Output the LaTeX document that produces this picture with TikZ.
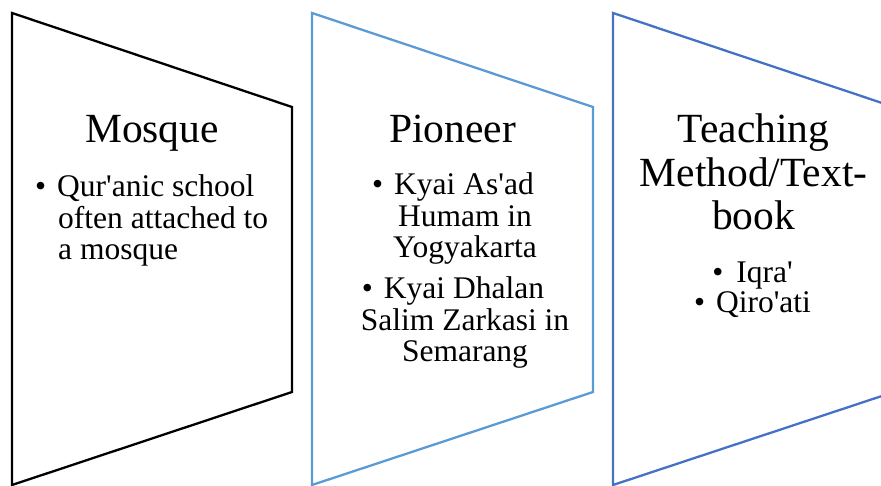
\documentclass[tikz,border=0pt]{standalone}
\usepackage{fontspec}
\setmainfont{Liberation Serif}[Ligatures=TeXOff]
\definecolor{blueA}{HTML}{5B9BD5}
\definecolor{blueB}{HTML}{4472C4}
\tikzset{
  panel/.style={line width=2.3pt, line join=miter},
  ttl/.style={inner sep=0pt, anchor=base, align=center, font={\fontsize{41.5}{43.5}\selectfont}},
  blt/.style={inner sep=0pt, anchor=base, font={\fontsize{31.5}{31.5}\selectfont}},
}
\newcommand{\bul}[1]{\textbullet\hspace{#1}}
\begin{document}
\begin{tikzpicture}[x=1pt,y=-1pt]
\useasboundingbox (0,0) rectangle (881,486);
\clip (0,0) rectangle (881,486);
% panels
\draw[panel, black] (12,13) -- (292,107) -- (292,392) -- (12,485) -- cycle;
\draw[panel, blueA] (312,13) -- (593,107) -- (593,392) -- (312,485) -- cycle;
\draw[panel, blueB] (613,13) -- (894,107) -- (894,392) -- (613,485) -- cycle;
% panel 1 (multi-line nodes: base anchor is on the last line)
\node[ttl] (t1) at (152,143) {Mosque};
\node[blt, anchor=base west, align=left] (b1) at (35,260)
  {\bul{11pt}Qur'anic school\\\hspace*{23pt}often attached to\\\hspace*{23pt}a mosque};
% panel 2
\node[ttl] (t2) at (452.5,143) {Pioneer};
\node[blt, align=center] (b2a) at (453,258)
  {\bul{11pt}Kyai As'ad\\\hspace*{24pt}Humam in\\\hspace*{24pt}Yogyakarta};
\node[blt, align=center] (b2b) at (453,361.5)
  {\bul{11pt}Kyai Dhalan\\\hspace*{24pt}Salim Zarkasi in\\\hspace*{24pt}Semarang};
% panel 3
\node[ttl] (t3) at (753.5,230) {Teaching\\Method/Text-\\book};
\node[blt] (b3a) at (752.5,283) {\bul{13pt}Iqra'};
\node[blt] (b3b) at (752.5,313) {\bul{11pt}Qiro'ati};
\end{tikzpicture}
\end{document}
